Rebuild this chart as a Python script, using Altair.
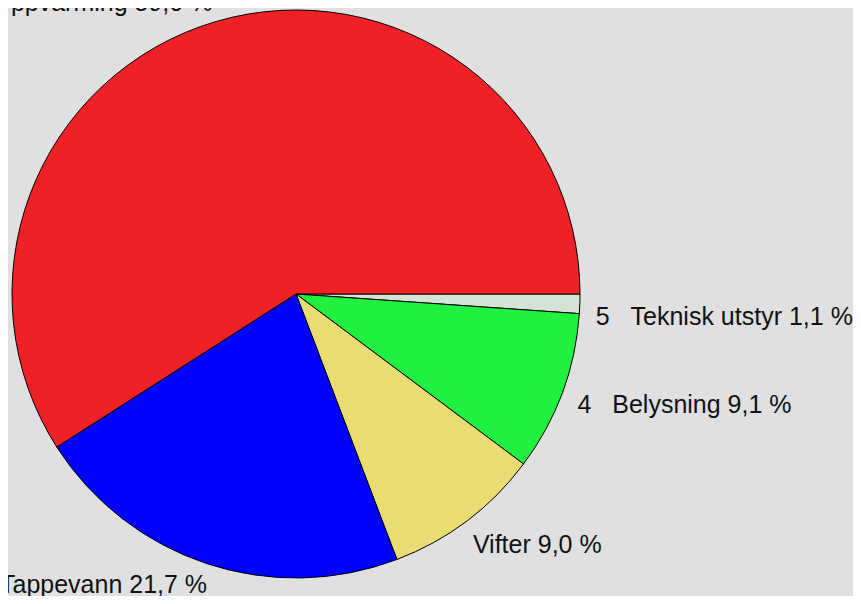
import math
import altair as alt
import pandas as pd

NB = "\u00a0"
categories = ["Teknisk utstyr", "Belysning", "Vifter", "Tappevann", "Oppvarming"]
values = [1.1, 9.1, 9.0, 21.7, 59.0]
label_top_right = ["5" + NB * 3 + "Teknisk utstyr 1,1 %", "", "", "", ""]
label_right = ["", "4" + NB * 3 + "Belysning 9,1 %", "Vifter 9,0 %", "", ""]
label_bottom_left = ["", "", "", "Tappevann 21,7 %", ""]
label_top_left = ["", "", "", "", "Oppvarming 59,0 %"]
colors = ["#d4e3d4", "#20f040", "#e8dc72", "#0000ff", "#f02027"]
order = [1, 2, 3, 4, 5]

df = pd.DataFrame({
    "category": categories,
    "value": values,
    "label_t": label_top_right,
    "label_r": label_right,
    "label_bl": label_bottom_left,
    "label_tl": label_top_left,
    "order": order,
})

cx, cy = 288, 286
theta = alt.Theta("value:Q", stack=True,
                  scale=alt.Scale(range=[math.pi / 2, math.pi / 2 + 2 * math.pi]))
base = alt.Chart(df).encode(
    theta=theta,
    order=alt.Order("order:Q"),
    x=alt.value(cx),
    y=alt.value(cy),
)

pie = base.mark_arc(outerRadius=284, stroke="black", strokeWidth=1).encode(
    color=alt.Color("category:N", scale=alt.Scale(domain=categories, range=colors), legend=None)
)

font = dict(font="Liberation Sans", fontSize=25, color="#111111", baseline="middle")
txt_t = base.mark_text(radius=312, align="left", dx=-12, dy=12, **font).encode(text="label_t:N")
txt_r = base.mark_text(radius=312, align="left", dx=-11, dy=2, **font).encode(text="label_r:N")
txt_bl = base.mark_text(radius=312, align="right", dx=9, dy=-5, **font).encode(text="label_bl:N")
txt_tl = base.mark_text(radius=312, align="right", dx=4, dy=8, **font).encode(text="label_tl:N")

chart = alt.layer(pie, txt_t, txt_r, txt_bl, txt_tl).properties(
    width=845, height=588,
    autosize=alt.AutoSizeParams(type="none"),
    padding=0,
    background="#e0e0e0",
).configure_view(stroke=None)

chart.save("out.html", embed_options={"renderer": "svg", "actions": False})
